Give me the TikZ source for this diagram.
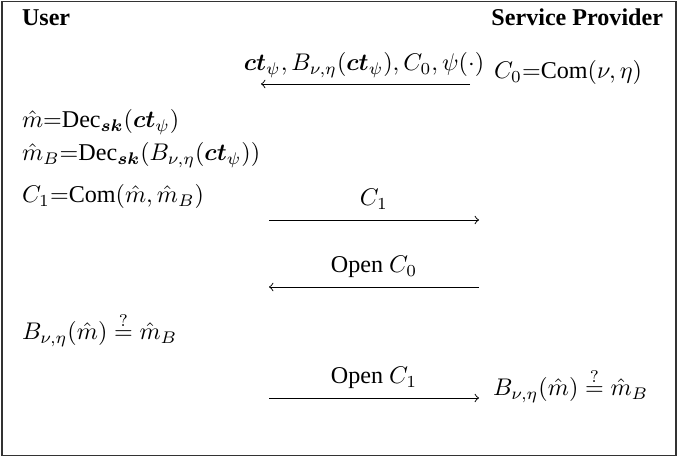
\documentclass[tikz,border=0pt]{standalone}
\usepackage{amsmath}
\usepackage{bm}
\usepackage{fontspec}
\setmainfont{Liberation Serif}
\begin{document}
\begin{tikzpicture}[x=0.415pt,y=-0.415pt,
  txt/.style={inner sep=0pt,outer sep=0pt},
  lft/.style={txt,anchor=base west},
  msg/.style={txt,anchor=base},
  flow/.style={->,line width=0.4pt},
  frame/.style={draw=black!80,line width=0.8pt}]
\useasboundingbox (0,0) rectangle (677,460);
\draw[frame] (2,1.5) rectangle (676,455.5);
\node[lft] (user) at (22,26) {\textbf{User}};
\node[txt,anchor=base east] (sp) at (663,26) {\textbf{Service Provider}};
% message 1
\coordinate (m1s) at (470,84);
\coordinate (m1e) at (261,84);
\node[msg] (m1l) at (364,71) {$\bm{ct}_\psi, B_{\nu,\eta}(\bm{ct}_\psi), C_0, \psi(\cdot)$};
\draw[flow] (m1s) -- (m1e);
\node[lft] (c0) at (494,79) {$C_0{=}\text{Com}(\nu,\eta)$};
% user computations
\node[lft] (dec1) at (22,128) {$\hat{m}{=}\text{Dec}_{\bm{sk}}(\bm{ct}_\psi)$};
\node[lft] (dec2) at (22,161) {$\hat{m}_B{=}\text{Dec}_{\bm{sk}}(B_{\nu,\eta}(\bm{ct}_\psi))$};
\node[lft] (c1) at (22,203) {$C_1{=}\text{Com}(\hat{m},\hat{m}_B)$};
% message 2
\coordinate (m2s) at (269,220);
\coordinate (m2e) at (479,220);
\node[msg] (m2l) at (374,206) {$C_1$};
\draw[flow] (m2s) -- (m2e);
% message 3
\coordinate (m3s) at (479,287);
\coordinate (m3e) at (269,287);
\node[msg] (m3l) at (374,273) {Open $C_0$};
\draw[flow] (m3s) -- (m3e);
% user check
\node[lft] (chk1) at (22,340) {$B_{\nu,\eta}(\hat{m}) \stackrel{?}{=} \hat{m}_B$};
% message 4
\coordinate (m4s) at (269,398);
\coordinate (m4e) at (479,398);
\node[msg] (m4l) at (374,384) {Open $C_1$};
\draw[flow] (m4s) -- (m4e);
\node[lft] (chk2) at (493,396) {$B_{\nu,\eta}(\hat{m}) \stackrel{?}{=} \hat{m}_B$};
\end{tikzpicture}
\end{document}
